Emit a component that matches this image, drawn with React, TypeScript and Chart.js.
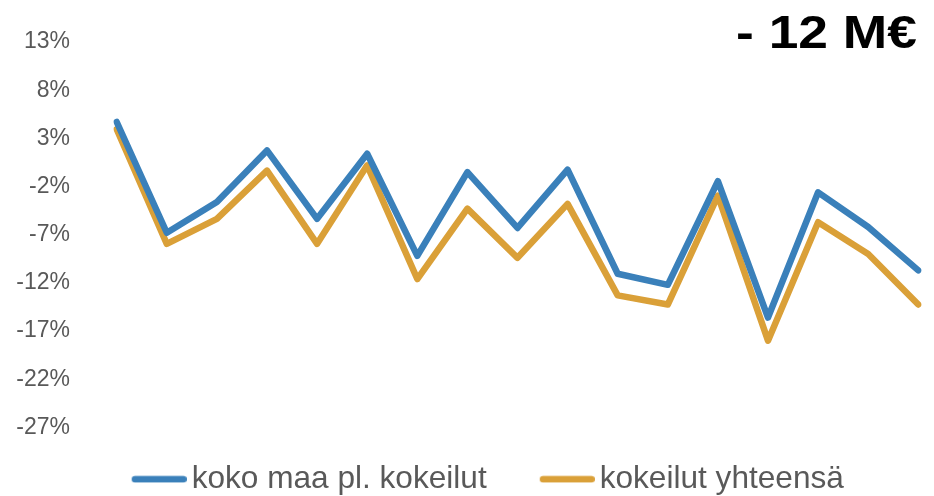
import React, { useEffect, useRef } from "react";
import { Chart, registerables } from "chart.js";

Chart.register(...registerables);

// ---- data ----
const categories: string[] = [
  "1", "2", "3", "4", "5", "6", "7", "8", "9", "10", "11", "12", "13", "14", "15", "16", "17",
];
const kokoMaa: number[] = [
  4.7, -6.8, -3.6, 1.75, -5.35, 1.4, -9.2, -0.5, -6.3, -0.25, -11.05, -12.2, -1.45, -15.6, -2.6, -6.2, -10.7,
];
const kokeilut: number[] = [
  3.95, -7.95, -5.35, -0.35, -7.95, 0.2, -11.6, -4.3, -9.4, -3.8, -13.3, -14.25, -2.95, -18.0, -5.7, -9.0, -14.25,
];
const yTicks: number[] = [13, 8, 3, -2, -7, -12, -17, -22, -27];
const seriesNames: string[] = ["koko maa pl. kokeilut", "kokeilut yhteensä"];
const titleText = "- 12 M€";

const BLUE = "#3A80BA";
const ORANGE = "#DAA038";
const FONT = '"Liberation Sans", Arial, sans-serif';

// legend swatch: 113px wide image, visible rounded line in its right part
function makeSwatch(color: string): HTMLCanvasElement {
  const c = document.createElement("canvas");
  c.width = 113;
  c.height = 8;
  const g = c.getContext("2d")!;
  g.strokeStyle = color;
  g.lineWidth = 6.5;
  g.lineCap = "round";
  g.beginPath();
  g.moveTo(58 + 3.25, 4);
  g.lineTo(113 - 3.25, 4);
  g.stroke();
  return c;
}

const cornerTitle = {
  id: "cornerTitle",
  afterDraw(chart: any) {
    const ctx = chart.ctx;
    ctx.save();
    ctx.font = `bold 46px ${FONT}`;
    ctx.fillStyle = "#000000";
    ctx.textAlign = "right";
    ctx.textBaseline = "alphabetic";
    ctx.translate(917, 48);
    ctx.scale(1.16, 1);
    ctx.fillText(titleText, 0, 0);
    ctx.restore();
  },
};

export default function App() {
  const ref = useRef<HTMLCanvasElement | null>(null);

  useEffect(() => {
    if (!ref.current) return;
    Chart.defaults.font.family = FONT;
    const chart = new Chart(ref.current, {
      type: "line",
      data: {
        labels: categories,
        datasets: [
          {
            label: seriesNames[0],
            data: kokoMaa,
            borderColor: BLUE,
            backgroundColor: BLUE,
            borderWidth: 6.5,
            borderCapStyle: "round",
            borderJoinStyle: "round",
            pointRadius: 0,
            pointStyle: makeSwatch(BLUE),
            tension: 0,
          },
          {
            label: seriesNames[1],
            data: kokeilut,
            borderColor: ORANGE,
            backgroundColor: ORANGE,
            borderWidth: 6.5,
            borderCapStyle: "round",
            borderJoinStyle: "round",
            pointRadius: 0,
            pointStyle: makeSwatch(ORANGE),
            tension: 0,
          },
        ],
      },
      options: {
        animation: false,
        responsive: false,
        devicePixelRatio: 1,
        events: [],
        layout: { padding: { left: 10, right: 15.7, top: 42, bottom: 0 } },
        scales: {
          x: {
            display: true,
            ticks: { display: false },
            grid: { display: false, drawTicks: false },
            border: { display: false },
            afterFit: (s: any) => {
              s.height = 30.2;
            },
          },
          y: {
            min: -27,
            max: 13,
            afterBuildTicks: (s: any) => {
              s.ticks = yTicks.map((v) => ({ value: v }));
            },
            afterFit: (s: any) => {
              s.width = 106.7;
            },
            grid: { display: false, drawTicks: true, tickLength: 46.7 },
            border: { display: false },
            ticks: {
              padding: 0,
              color: "#595959",
              font: { family: FONT, size: 23 },
              callback: (v: any) => `${v}%`,
            },
          },
        },
        plugins: {
          legend: {
            position: "bottom",
            labels: {
              usePointStyle: true,
              pointStyleWidth: 91.4,
              padding: 5.8,
              color: "#595959",
              font: { family: FONT, size: 31.6 },
            },
          },
          tooltip: { enabled: false },
        },
      },
      plugins: [cornerTitle],
    } as any);
    return () => chart.destroy();
  }, []);

  return (
    <div
      style={{
        position: "fixed",
        left: 0,
        top: 0,
        width: 934,
        height: 496,
        overflow: "hidden",
        background: "#ffffff",
      }}
    >
      <canvas ref={ref} width={934} height={505} style={{ width: 934, height: 505, display: "block" }} />
    </div>
  );
}
